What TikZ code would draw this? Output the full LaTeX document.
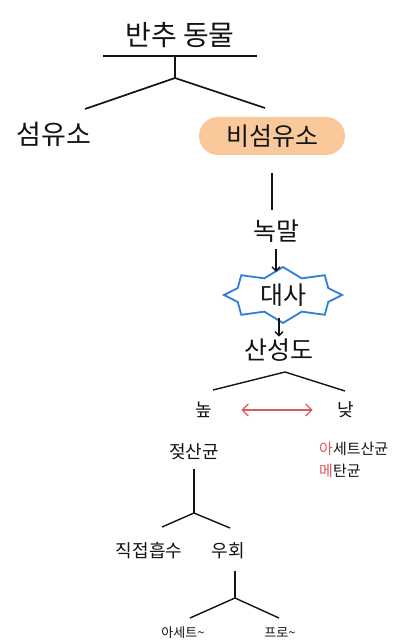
\documentclass[tikz,border=0pt]{standalone}
\usepackage{fontspec}
\setmainfont{Noto Sans CJK KR}
\usetikzlibrary{arrows.meta,shapes.symbols}
\definecolor{Ink}{HTML}{141414}
\definecolor{Peach}{HTML}{F9C99B}
\definecolor{Sky}{HTML}{2F7FD8}
\definecolor{Rose}{HTML}{DB5A5C}
\tikzset{
  word/.style={inner sep=1pt,text=Ink,font=\fontsize{25}{28}\selectfont},
  midword/.style={word,font=\fontsize{18}{21}\selectfont},
  smallword/.style={word,font=\fontsize{15}{18}\selectfont},
  tinyword/.style={word,font=\fontsize{13}{16}\selectfont},
  pill/.style={word,fill=Peach,rounded corners=19pt,minimum width=146pt,minimum height=38pt},
  burst/.style={word,starburst,draw=Sky,fill=white,line width=1.8pt,minimum width=118pt,minimum height=56pt,starburst points=8,starburst point height=10pt,random starburst=0},
  branch/.style={draw=Ink,line width=1.7pt},
  line/.style={-{Straight Barb[length=4pt]},draw=Ink,line width=1.4pt},
  pairline/.style={{Straight Barb[length=6pt]}-{Straight Barb[length=6pt]},draw=Rose,line width=1.2pt}
}

\begin{document}
\begin{tikzpicture}[x=1pt,y=-1pt]
  \useasboundingbox[fill=white] (0,0) rectangle (400,644);
  % title with its bar
  \node[word,font=\fontsize{28}{30}\selectfont,minimum width=154pt,anchor=south,inner ysep=8pt] (top) at (180,56) {반추 동물};
  \draw[branch,line width=2.4pt] (top.south west) -- (top.south east);
  \coordinate (j1) at (175,78);
  \coordinate (j1l) at (85,109);
  \coordinate (j1r) at (265,108);
  \draw[branch] (top.south -| j1) -- (j1);
  \draw[branch] (j1l) -- (j1) -- (j1r);

  \node[word,font=\fontsize{27}{30}\selectfont] (fib) at (54,134) {섬유소};
  \node[pill] (nonfib) at (272,136) {비섬유소};

  % starch path
  \node[word] (starch) at (276,231) {녹말};
  \node[burst] (meta) at (283,295) {대사};
  \node[word] (acid) at (279,350) {산성도};
  \draw[branch,shorten <=18pt,shorten >=8pt] (nonfib) -- (nonfib |- starch.north);
  \draw[line,shorten <=5pt,shorten >=-6pt] (starch) -- (starch |- meta.north);
  \draw[line,shorten <=-6pt,shorten >=1pt] (acid |- meta.south) -- (acid);

  \coordinate (j2) at (285,372);
  \coordinate (j2l) at (213,390);
  \coordinate (j2r) at (345,391);
  \draw[branch,line width=1.4pt] (j2l) -- (j2) -- (j2r);

  \node[midword] (hi) at (204,410) {높};
  \node[midword] (lo) at (346,410) {낮};
  \draw[pairline,shorten <=28pt,shorten >=24pt] (hi) -- (lo);

  \node[midword] (lactic) at (194,452) {젖산균};
  \node[smallword,anchor=west] (acetic) at (318,449) {{\color{Rose}아}세트산균};
  \node[smallword,anchor=west] (methane) at (318,471) {{\color{Rose}메}탄균};

  % lactic acid split
  \coordinate (j3) at (194,513);
  \coordinate (j3l) at (162,527);
  \coordinate (j3r) at (230,528);
  \draw[branch,line width=1.4pt,shorten <=8pt] (lactic.south) -- (j3);
  \draw[branch,line width=1.4pt] (j3l) -- (j3) -- (j3r);

  \node[midword] (direct) at (149,551) {직접흡수};
  \node[midword] (detour) at (228,551) {우회};

  \coordinate (j4) at (235,598);
  \coordinate (j4l) at (190,618);
  \coordinate (j4r) at (279,618);
  \draw[branch,line width=1.4pt,shorten <=11pt] (detour.south -| j4) -- (j4);
  \draw[branch,line width=1.4pt] (j4l) -- (j4) -- (j4r);

  \node[tinyword] (ace) at (183,633) {아세트\textasciitilde};
  \node[tinyword] (pro) at (280,633) {프로\textasciitilde};
\end{tikzpicture}
\end{document}
